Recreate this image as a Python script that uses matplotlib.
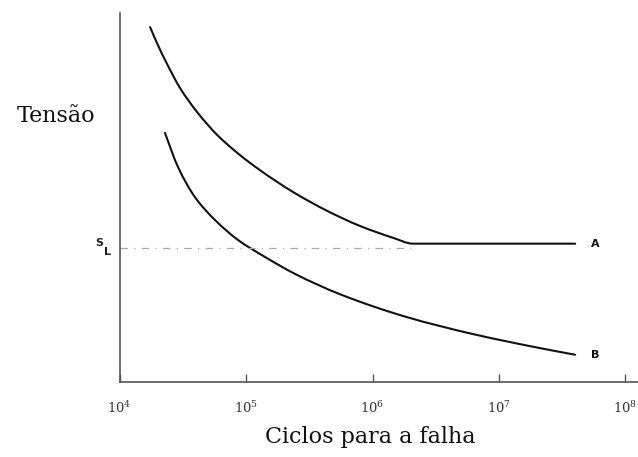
import numpy as np
import matplotlib
matplotlib.use("Agg")
import matplotlib.pyplot as plt
from matplotlib.path import Path
from matplotlib.patches import PathPatch

# S-N curves: cycles to failure vs stress (arbitrary stress units, 0-100)
cycles_a = [1.74e4, 1.97e4, 2.37e4, 3.00e4, 4.09e4, 5.89e4, 8.95e4, 1.29e5,
            2.35e5, 4.37e5, 7.96e5, 1.45e6, 2.09e6, 1.0e7, 4.01e7]
stress_a = [96.2, 91.9, 86.2, 79.7, 73.2, 67.0, 61.5, 57.4,
            51.5, 46.4, 42.3, 39.1, 37.5, 37.5, 37.5]

cycles_b = [2.28e4, 2.89e4, 3.94e4, 5.68e4, 8.63e4, 1.41e5, 2.44e5, 5.53e5,
            1.87e6, 6.24e6, 2.11e7, 4.01e7]
stress_b = [67.5, 58.3, 50.1, 43.9, 38.5, 33.9, 29.3, 23.8,
            17.6, 13.0, 9.2, 7.4]

fatigue_limit = 36.3       # S_L
limit_end = 2.0e6          # dashed guide runs up to the knee of curve A

tick_pos = [1e4, 1e5, 1e6, 1e7, 1e8]
tick_lbl = [r"$10^{4}$", r"$10^{5}$", r"$10^{6}$", r"$10^{7}$", r"$10^{8}$"]


def smooth_path(xs, ys):
    # bezier segments through the points with pchip-style slopes
    # (no overshoot), worked out in log-x for the log axis
    lx = np.log10(xs)
    y = np.asarray(ys, float)
    n = len(lx)
    h = np.diff(lx)
    d = np.diff(y) / h
    m = np.zeros(n)
    m[0], m[-1] = d[0], d[-1]
    for i in range(1, n - 1):
        if d[i - 1] * d[i] > 0:
            w1 = 2 * h[i] + h[i - 1]
            w2 = h[i] + 2 * h[i - 1]
            m[i] = (w1 + w2) / (w1 / d[i - 1] + w2 / d[i])
    verts = [(xs[0], y[0])]
    codes = [Path.MOVETO]
    for i in range(n - 1):
        t = h[i] / 3
        verts += [(10**(lx[i] + t), y[i] + m[i] * t),
                  (10**(lx[i + 1] - t), y[i + 1] - m[i + 1] * t),
                  (xs[i + 1], y[i + 1])]
        codes += [Path.CURVE4] * 3
    return Path(verts, codes)


plt.rcParams["mathtext.fontset"] = "dejavuserif"

fig = plt.figure(figsize=(6.38, 4.57), dpi=100)
ax = fig.add_axes([0.1876, 0.164, 0.8124, 0.8075])

for cx, sy in [(cycles_a, stress_a), (cycles_b, stress_b)]:
    ax.add_patch(PathPatch(smooth_path(cx, sy), fill=False,
                           edgecolor="#111111", lw=1.5, capstyle="round"))
ax.plot([1e4, limit_end], [fatigue_limit, fatigue_limit], color="#aaaaaa",
        lw=0.9, linestyle=(0, (6, 5, 1, 5)))

ax.set_xscale("log")
ax.set_xlim(1e4, 10**8.1)
ax.set_ylim(0, 100)

for side in ["top", "right"]:
    ax.spines[side].set_visible(False)
for side in ["left", "bottom"]:
    ax.spines[side].set_color("#555555")
    ax.spines[side].set_linewidth(1.2)

ax.set_yticks([])
ax.set_xticks(tick_pos)
ax.set_xticklabels(tick_lbl)
ax.xaxis.set_minor_locator(matplotlib.ticker.NullLocator())
ax.tick_params(axis="x", direction="in", length=6, width=1, color="#555555",
               labelsize=9.5, labelcolor="#333333", pad=13)

# curve labels
ax.text(10**7.73, stress_a[-1], "A", fontsize=8, fontweight="bold",
        ha="left", va="center", color="#111111")
ax.text(10**7.73, stress_b[-1], "B", fontsize=8, fontweight="bold",
        ha="left", va="center", color="#111111")

# fatigue limit label
fig.text(95 / 638, 1 - 243 / 457, "S", fontsize=8, fontweight="bold",
         ha="left", va="center", color="#222222")
fig.text(104 / 638, 1 - 252 / 457, "L", fontsize=8, fontweight="bold",
         ha="left", va="center", color="#222222")

fig.text(56 / 638, 1 - 116 / 457, "Tensão", fontsize=16, family="DejaVu Serif",
         ha="center", va="center", color="#111111")
fig.text(370 / 638, 1 - 437 / 457, "Ciclos para a falha", fontsize=16,
         family="DejaVu Serif", ha="center", va="center", color="#111111")

fig.savefig("out.png", dpi=100)
